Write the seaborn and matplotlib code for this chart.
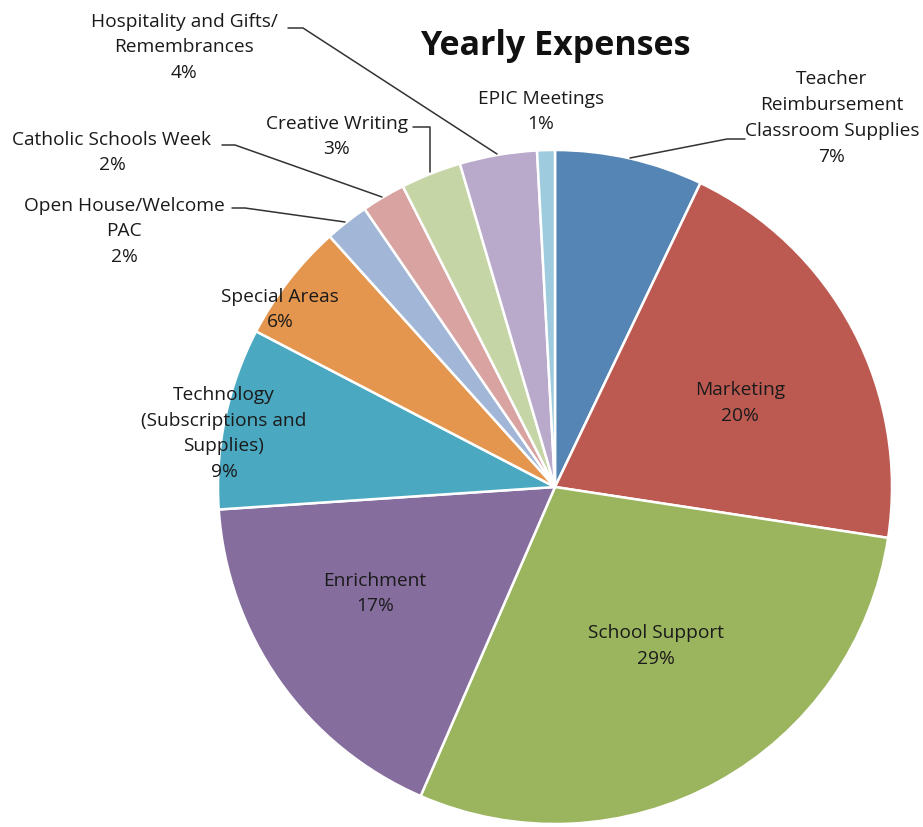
import matplotlib
matplotlib.use("Agg")
import matplotlib.pyplot as plt
import seaborn as sns

# share of yearly expenses, in percent
categories = [
    "Teacher\nReimbursement\nClassroom Supplies",
    "Marketing",
    "School Support",
    "Enrichment",
    "Technology\n(Subscriptions and\nSupplies)",
    "Special Areas",
    "Open House/Welcome\nPAC",
    "Catholic Schools Week",
    "Creative Writing",
    "Hospitality and Gifts/\nRemembrances",
    "EPIC Meetings",
]
shares = [7.1, 20.3, 29.1, 17.4, 8.7, 5.7, 2.1, 2.1, 2.9, 3.7, 0.85]
colors = ["#5585B5", "#BC5A52", "#9BB45E", "#856D9E", "#4BA8C1", "#E4964E",
          "#A2B6D8", "#D9A3A2", "#C6D5A5", "#B9AACB", "#9ECBDD"]

sns.set_theme(style="white")
plt.rcParams["font.family"] = ["Open Sans", "DejaVu Sans"]

W, H = 923, 827
fig = plt.figure(figsize=(W / 100, H / 100), dpi=100)
ax = fig.add_axes([0, 0, 1, 1])

cx, cy, r = 555, 487, 337
ax.pie(shares, colors=colors, startangle=90, counterclock=False,
       center=(cx, H - cy), radius=r, frame=True,
       wedgeprops=dict(edgecolor="white", linewidth=1.8))
ax.set_xlim(0, W)
ax.set_ylim(0, H)
ax.set_aspect("equal")
ax.axis("off")

# label anchor positions (pixel coords, y from top)
label_pos = [(832, 118), (740, 403), (656, 646), (375, 593.5), (224, 433.5),
             (280, 309.5), (124, 231.5), (112, 152.5), (337, 136.5),
             (184, 47.5), (541, 111.5)]
total = sum(shares)
for name, v, (x, y) in zip(categories, shares, label_pos):
    ax.text(x, H - y, f"{name}\n{v / total * 100:.0f}%", ha="center",
            va="center", fontsize=13.8, color="#1a1a1a", linespacing=1.55)

leaders = [
    [(745, 139), (727, 139), (630, 158)],
    [(232, 208), (245, 208), (345, 222)],
    [(222, 145), (235, 145), (382, 197)],
    [(413, 127), (430, 127), (430, 172)],
    [(288, 28), (303, 28), (497, 154)],
]
for pts in leaders:
    ax.plot([p[0] for p in pts], [H - p[1] for p in pts], color="#333333",
            lw=1.1)

ax.text(555, H - 46, "Yearly Expenses", ha="center", va="center",
        fontsize=24.5, fontweight="bold", color="#111111")

fig.savefig("out.png", dpi=100)
